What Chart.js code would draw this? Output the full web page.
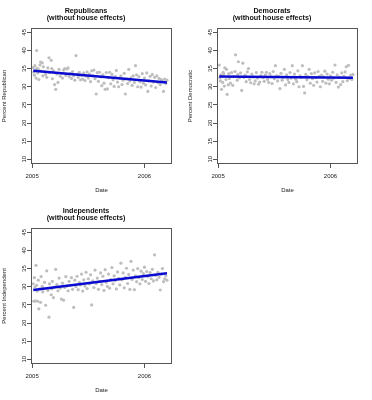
<!DOCTYPE html>
<html>
<head>
<meta charset="utf-8">
<script src="https://cdn.jsdelivr.net/npm/chart.js@4.4.1/dist/chart.umd.min.js"></script>
<style>
  body { margin: 0; background: #fff; }
  #wrap { position: relative; width: 372px; height: 400px; }
  .panel { position: absolute; width: 186px; height: 200px; }
</style>
</head>
<body>
<div id="wrap">
  <div class="panel" style="left:0;top:0"><canvas id="g1" width="186" height="200"></canvas></div>
  <div class="panel" style="left:186px;top:0"><canvas id="g2" width="186" height="200"></canvas></div>
  <div class="panel" style="left:0;top:200px"><canvas id="g3" width="186" height="200"></canvas></div>
</div>
<script>
// poll dates (fractional years), shared by the three panels
const dates = [
  2005.01, 2005.015, 2005.02, 2005.025, 2005.03, 2005.035, 2005.04, 2005.045, 2005.05, 2005.055,
  2005.06, 2005.07, 2005.075, 2005.08, 2005.09, 2005.095, 2005.10, 2005.11, 2005.12, 2005.13,
  2005.14, 2005.15, 2005.155, 2005.17, 2005.175, 2005.18, 2005.19, 2005.20, 2005.21,
  2005.22, 2005.23, 2005.24, 2005.25, 2005.26, 2005.27, 2005.28, 2005.29, 2005.30, 2005.31,
  2005.32, 2005.33, 2005.34, 2005.35, 2005.36, 2005.37, 2005.38, 2005.39,
  2005.40, 2005.41, 2005.42, 2005.43, 2005.44, 2005.45, 2005.46, 2005.47, 2005.48, 2005.49,
  2005.50, 2005.51, 2005.52, 2005.53, 2005.54, 2005.55, 2005.56, 2005.57, 2005.58, 2005.59,
  2005.60, 2005.61, 2005.62, 2005.63, 2005.64, 2005.65, 2005.66, 2005.67, 2005.68, 2005.69,
  2005.70, 2005.71, 2005.72, 2005.73, 2005.74, 2005.75, 2005.76, 2005.77, 2005.78, 2005.79,
  2005.80, 2005.81, 2005.82, 2005.83, 2005.84, 2005.85, 2005.86, 2005.87, 2005.88, 2005.89,
  2005.90, 2005.91, 2005.92, 2005.93, 2005.94, 2005.95, 2005.96, 2005.97, 2005.98, 2005.99,
  2006.00, 2006.01, 2006.02, 2006.03, 2006.04, 2006.05, 2006.06, 2006.07, 2006.08, 2006.09,
  2006.10, 2006.11, 2006.12, 2006.13, 2006.14, 2006.15, 2006.16, 2006.17, 2006.18, 2006.19, 2006.20
];

const republicans = [
  35.3, 34.0, 33.2, 35.8, 34.6, 32.4, 40.0, 35.1, 33.8, 34.9, 32.0, 36.0, 36.8, 34.3, 36.6, 33.0, 35.5, 34.1, 33.4, 32.6,
  35.2, 38.0, 33.9, 37.3, 35.0, 32.2, 34.4, 30.6, 29.3,
  33.5, 31.2, 34.8, 32.9, 33.7, 32.4, 34.6, 35.0, 33.1, 34.9, 35.2, 32.8, 33.6, 32.3, 34.2, 33.0, 31.8, 38.6,
  33.4, 32.6, 34.0, 31.9, 33.2, 32.1, 33.8, 31.7, 32.9, 34.1,
  32.4, 33.5, 31.4, 34.4, 33.0, 34.6, 32.2, 28.0, 33.9, 31.5,
  34.0, 32.7, 30.3, 33.3, 31.0, 29.3, 33.9, 29.4, 32.5, 34.0,
  30.8, 33.4, 31.9, 30.1, 32.8, 34.5, 31.3, 30.0, 32.4, 33.0,
  30.6, 31.8, 33.7, 28.0, 32.2, 30.9, 34.8, 31.6, 32.5, 30.4,
  33.0, 31.2, 35.8, 33.3, 30.0, 32.8, 31.4, 29.9, 33.6, 31.0,
  32.4, 30.5, 33.8, 28.7, 31.6, 32.9, 30.2, 33.4, 31.3, 32.6,
  29.8, 33.0, 31.1, 32.3, 30.6, 32.0, 31.4, 28.7, 32.1, 30.9, 31.8
];

const democrats = [
  36.0, 32.5, 31.6, 33.3, 29.3, 32.9, 31.2, 34.0, 33.5, 30.2, 35.2, 32.0, 34.8, 27.9, 30.5, 33.6, 32.3, 31.0, 33.9, 30.4,
  32.8, 34.2, 38.8, 31.8, 33.4, 36.9, 32.5, 33.8, 29.0,
  36.5, 32.6, 33.2, 31.4, 34.1, 35.0, 32.0, 31.1, 33.5, 32.7, 30.8, 31.6, 33.9, 32.4, 30.7, 31.3, 33.1, 34.0,
  32.5, 31.5, 33.3, 34.0, 32.0, 31.2, 33.6, 32.8, 30.9, 34.2,
  32.2, 35.8, 33.0, 31.6, 32.9, 29.5, 33.7, 31.8, 32.6, 34.8,
  30.5, 33.3, 32.0, 31.2, 33.9, 32.4, 35.8, 30.8, 33.5, 32.1,
  31.4, 34.4, 30.0, 33.0, 32.6, 35.8, 30.1, 28.3, 33.4, 31.9,
  32.8, 34.8, 31.0, 33.6, 32.2, 30.4, 33.8, 32.5, 31.3, 34.2,
  32.9, 30.0, 33.2, 31.5, 32.7, 34.3, 31.0, 33.5, 32.1, 30.8,
  33.0, 31.8, 34.0, 32.4, 36.0, 31.2, 33.3, 29.9, 32.6, 30.6,
  33.8, 31.4, 32.9, 34.1, 35.5, 31.7, 35.9, 32.3, 33.2, 32.0, 33.4
];

const independents = [
  30.8, 26.0, 32.5, 29.9, 26.1, 35.9, 30.4, 28.8, 26.0, 31.8, 23.9, 29.4, 25.7, 32.8, 30.1, 28.6, 29.5, 31.2, 24.9, 34.4,
  29.0, 21.6, 30.8, 27.8, 29.4, 31.5, 27.0, 29.9, 34.8,
  30.6, 28.9, 32.4, 29.6, 26.6, 31.0, 26.3, 29.8, 32.8, 30.2, 28.9, 31.5, 30.4, 32.5, 29.3, 24.3, 31.8, 30.0,
  32.9, 29.2, 31.2, 30.5, 33.5, 28.8, 31.9, 30.2, 34.0, 29.5,
  32.2, 30.8, 33.3, 25.0, 31.6, 29.8, 34.6, 30.9, 32.4, 29.3,
  31.5, 33.8, 30.6, 32.9, 29.0, 34.7, 31.2, 30.1, 33.5, 29.6,
  32.0, 35.3, 30.8, 33.0, 31.7, 29.4, 34.1, 32.3, 30.5, 36.5,
  31.9, 33.8, 29.7, 32.6, 35.1, 30.9, 33.4, 29.3, 37.0, 32.0,
  34.6, 29.2, 33.0, 31.4, 35.0, 32.5, 30.8, 34.3, 32.0, 33.6,
  35.4, 31.5, 34.2, 32.8, 30.9, 33.9, 32.2, 34.8, 31.6, 38.8,
  33.1, 31.9, 34.0, 32.6, 29.1, 33.5, 35.0, 31.4, 32.2, 33.0, 31.8
];

// fitted trend lines (end points)
const fitDates = [2005.01, 2006.20];
const fitRepublicans = [34.4, 31.2];
const fitDemocrats = [32.8, 32.5];
const fitIndependents = [29.1, 33.7];

const xTicks = [2005, 2006];
const yTicks = [10, 15, 20, 25, 30, 35, 40, 45];

const FONT = '"Liberation Sans", Arial, sans-serif';

// frame around the plot region, like R's box()
const boxPlugin = {
  id: 'box',
  afterDraw(chart) {
    const { ctx, chartArea } = chart;
    const l = Math.round(chartArea.left) + 0.5;
    const t = Math.round(chartArea.top) + 0.5;
    const r = Math.round(chartArea.right) - 0.5;
    const b = Math.round(chartArea.bottom) - 0.5;
    ctx.save();
    ctx.strokeStyle = '#555';
    ctx.lineWidth = 1;
    ctx.strokeRect(l, t, r - l, b - t);
    ctx.restore();
  }
};

function makePanel(id, title, yTitle, values, fit) {
  const points = dates.map((d, i) => ({ x: d, y: values[i] }));
  const line = fitDates.map((d, i) => ({ x: d, y: fit[i] }));

  return new Chart(document.getElementById(id), {
    type: 'scatter',
    data: {
      datasets: [
        // trend line drawn on top of the dots
        { data: line, order: 0, showLine: true, borderColor: '#0a0ad0', borderWidth: 2.5, pointRadius: 0 },
        { data: points, order: 1, pointRadius: 1.6, pointBackgroundColor: '#bebebe', pointBorderWidth: 0 }
      ]
    },
    options: {
      responsive: false,
      animation: false,
      events: [],
      layout: { padding: { left: 0, right: 14, top: 0, bottom: 0 } },
      plugins: {
        legend: { display: false },
        tooltip: { enabled: false },
        title: {
          display: true,
          text: title,
          color: '#111',
          font: { family: FONT, size: 7.2, weight: 'bold', lineHeight: 1 },
          padding: { top: 7.6, bottom: 6 }
        }
      },
      scales: {
        x: {
          type: 'linear',
          min: 2004.99,
          max: 2006.245,
          afterBuildTicks: s => { s.ticks = xTicks.map(v => ({ value: v })); },
          afterFit: s => { s.height = 36; },
          grid: { drawOnChartArea: false, tickLength: 4, color: '#555' },
          border: { display: false },
          ticks: {
            callback: v => String(v),
            font: { family: FONT, size: 6 },
            color: '#222',
            padding: 5,
            maxRotation: 0,
            autoSkip: false
          },
          title: {
            display: true,
            text: 'Date',
            color: '#222',
            font: { family: FONT, size: 6 },
            padding: { top: 0, bottom: 6 }
          }
        },
        y: {
          min: 8.7,
          max: 46.2,
          afterBuildTicks: s => { s.ticks = yTicks.map(v => ({ value: v })); },
          afterFit: s => { s.width = 31; },
          grid: { drawOnChartArea: false, tickLength: 4, color: '#555' },
          border: { display: false },
          ticks: {
            font: { family: FONT, size: 6 },
            color: '#222',
            minRotation: 90,
            maxRotation: 90,
            crossAlign: 'center',
            padding: -1,
            autoSkip: false
          },
          title: {
            display: true,
            text: yTitle,
            color: '#222',
            font: { family: FONT, size: 6 },
            padding: { top: 1, bottom: 0 }
          }
        }
      }
    },
    plugins: [boxPlugin]
  });
}

document.addEventListener('DOMContentLoaded', function() {
  makePanel('g1', ['Republicans', '(without house effects)'], 'Percent Republican', republicans, fitRepublicans);
  makePanel('g2', ['Democrats', '(without house effects)'], 'Percent Democratic', democrats, fitDemocrats);
  makePanel('g3', ['Independents', '(without house effects)'], 'Percent Independent', independents, fitIndependents);
});
</script>
</body>
</html>
